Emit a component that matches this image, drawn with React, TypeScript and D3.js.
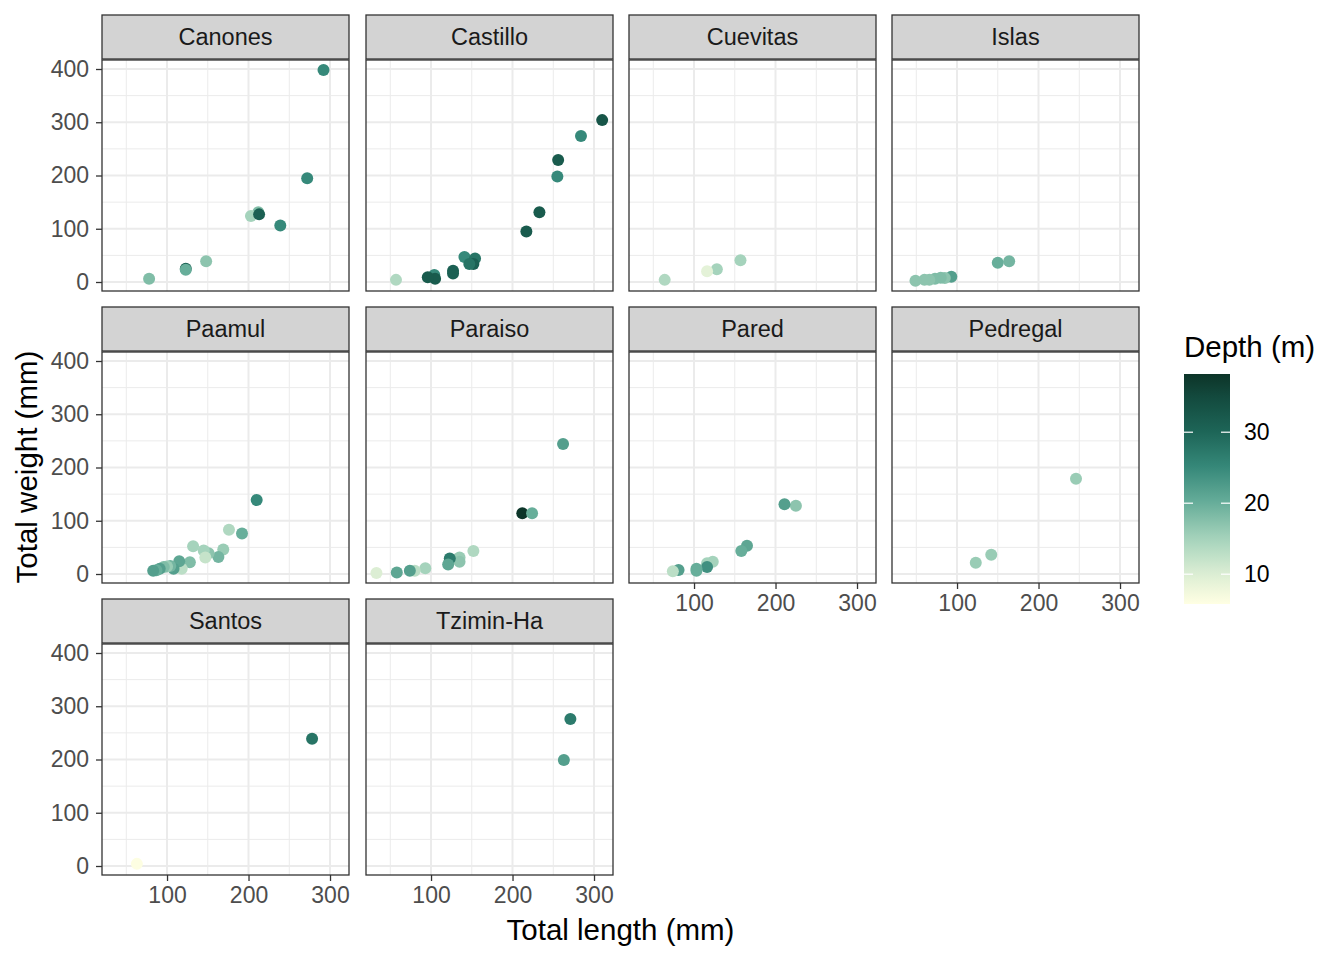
import React, { useRef, useEffect } from 'react';
import * as d3 from 'd3';

// [total length (mm), total weight, depth (m)]
type Fish = [number, number, number];

const SITES = ['Canones', 'Castillo', 'Cuevitas', 'Islas', 'Paamul', 'Paraiso', 'Pared', 'Pedregal', 'Santos', 'Tzimin-Ha'];

const canones: Fish[] = [
  [292, 398, 25], [272, 195, 25], [212, 131, 18], [203, 124, 15], [213, 127, 31],
  [239, 106, 25], [148, 39, 17], [123, 25, 31], [123, 23, 20], [78, 6, 18],
];
const castillo: Fish[] = [
  [310, 304, 33], [284, 274, 25], [256, 229, 32], [255, 198, 25], [233, 131, 32],
  [217, 95, 32], [141, 47, 25], [154, 44, 28], [152, 34, 31], [147, 34, 28],
  [127, 21, 31], [127, 16, 31], [104, 13, 25], [105, 6, 32], [96, 9, 32], [57, 4, 14],
];
const cuevitas: Fish[] = [[157, 41, 15], [128, 24, 15], [116, 20, 9], [64, 4, 14]];
const islas: Fish[] = [
  [164, 39, 19], [150, 36, 20], [93, 10, 22], [85, 7.5, 17], [80, 8, 18],
  [73, 6, 18], [66, 4, 17], [60, 4, 17], [49, 2.5, 17],
];
const paamul: Fish[] = [
  [210, 139, 25], [192, 76, 20], [176, 83, 14], [169, 46, 16], [163, 32, 19],
  [151, 39, 17], [145, 44, 15], [147, 31, 12], [132, 52, 15], [128, 22, 18],
  [118, 10, 13], [115, 24, 21], [108, 10, 22], [104, 15, 19], [100, 14, 16],
  [96, 13, 18], [91, 10, 22], [87, 7, 20], [83, 6, 22],
];
const paraiso: Fish[] = [
  [262, 244, 22], [212, 114, 38], [224, 114, 20], [152, 43, 14], [135, 31, 16],
  [135, 23, 17], [123, 29, 27], [121, 18, 21], [93, 11, 15], [80, 6, 13],
  [74, 6, 22], [58, 3, 21], [33, 2, 10],
];
const pared: Fish[] = [
  [225, 128, 17], [211, 131, 22], [165, 53, 21], [158, 43, 20], [123, 23, 15],
  [116, 20, 15], [116, 13, 24], [103, 10, 20], [103, 6, 20], [81, 7.5, 22], [74, 5, 13],
];
const pedregal: Fish[] = [[246, 179, 16], [142, 36, 16], [123, 21, 16]];
const santos: Fish[] = [[278, 239, 28], [63, 4, 6]];
const tziminHa: Fish[] = [[271, 276, 27], [263, 199, 22]];

const SITE_DATA: Fish[][] = [canones, castillo, cuevitas, islas, paamul, paraiso, pared, pedregal, santos, tziminHa];

const X_TICKS = [100, 200, 300];
const X_MINOR = [50, 150, 250];
const Y_TICKS = [0, 100, 200, 300, 400];
const Y_MINOR = [50, 150, 250, 350];
const DEPTH_TICKS = [10, 20, 30];

const DEPTH_STOPS = [5.8, 10, 15, 20, 25, 30, 35, 38.2];
const DEPTH_COLORS = ['#FFFFE3', '#DCEED4', '#A5D3BC', '#67AE9A', '#36897A', '#1D6658', '#134A3E', '#0C3428'];

const FONT = '"Liberation Sans", Arial, Helvetica, sans-serif';

export default function App() {
  const svgRef = useRef<SVGSVGElement>(null);

  useEffect(() => {
    if (!svgRef.current) return;
    const svg = d3.select(svgRef.current);
    svg.selectAll('*').remove();

    const colLeft = [102, 366, 629, 892];
    const rowTop = [15, 307, 599];
    const panelW = 247;
    const stripH = 44;
    const panelH = 231;

    const color = d3.scaleLinear<string>()
      .domain(DEPTH_STOPS)
      .range(DEPTH_COLORS)
      .interpolate(d3.interpolateLab)
      .clamp(true);

    SITES.forEach((site, i) => {
      const col = i % 4;
      const row = Math.floor(i / 4);
      const left = colLeft[col];
      const stripTop = rowTop[row];
      const top = stripTop + stripH + 1;

      const x = d3.scaleLinear().domain([20.2, 323.3]).range([left, left + panelW]);
      const y = d3.scaleLinear().domain([-16.9, 416.9]).range([top + panelH, top]);

      const g = svg.append('g');

      g.append('rect')
        .attr('x', left).attr('y', top)
        .attr('width', panelW).attr('height', panelH)
        .attr('fill', '#fff');

      // minor grid
      g.selectAll('.xminor').data(X_MINOR).join('line')
        .attr('x1', d => x(d)).attr('x2', d => x(d))
        .attr('y1', top).attr('y2', top + panelH)
        .attr('stroke', '#EBEBEB').attr('stroke-width', 1);
      g.selectAll('.yminor').data(Y_MINOR).join('line')
        .attr('x1', left).attr('x2', left + panelW)
        .attr('y1', d => y(d)).attr('y2', d => y(d))
        .attr('stroke', '#EBEBEB').attr('stroke-width', 1);
      // major grid
      g.selectAll('.xmajor').data(X_TICKS).join('line')
        .attr('x1', d => x(d)).attr('x2', d => x(d))
        .attr('y1', top).attr('y2', top + panelH)
        .attr('stroke', '#EBEBEB').attr('stroke-width', 2);
      g.selectAll('.ymajor').data(Y_TICKS).join('line')
        .attr('x1', left).attr('x2', left + panelW)
        .attr('y1', d => y(d)).attr('y2', d => y(d))
        .attr('stroke', '#EBEBEB').attr('stroke-width', 2);

      // points
      g.append('g')
        .selectAll('circle')
        .data(SITE_DATA[i])
        .join('circle')
        .attr('cx', d => x(d[0]))
        .attr('cy', d => y(d[1]))
        .attr('r', 6)
        .attr('fill', d => color(d[2]));

      // panel border
      g.append('rect')
        .attr('x', left).attr('y', top)
        .attr('width', panelW).attr('height', panelH)
        .attr('fill', 'none').attr('stroke', '#333333').attr('stroke-width', 1.3);

      // strip
      g.append('rect')
        .attr('x', left).attr('y', stripTop)
        .attr('width', panelW).attr('height', stripH)
        .attr('fill', '#D3D3D3').attr('stroke', '#333333').attr('stroke-width', 1.3);
      g.append('text')
        .attr('x', left + panelW / 2).attr('y', stripTop + stripH / 2)
        .attr('text-anchor', 'middle').attr('dominant-baseline', 'central')
        .attr('font-family', FONT).attr('font-size', 23.5).attr('fill', '#1A1A1A')
        .text(site);

      // left axis
      if (col === 0) {
        const ax = g.append('g')
          .attr('transform', `translate(${left},0)`)
          .call(d3.axisLeft(y).tickValues(Y_TICKS).tickSize(6).tickPadding(7).tickFormat(d3.format('d')));
        ax.select('.domain').remove();
        ax.selectAll('line').attr('stroke', '#333333').attr('stroke-width', 1.3);
        ax.selectAll('text').attr('font-family', FONT).attr('font-size', 23).attr('fill', '#4D4D4D');
      }
      // bottom axis
      if (i + 4 >= SITES.length) {
        const ax = g.append('g')
          .attr('transform', `translate(0,${top + panelH})`)
          .call(d3.axisBottom(x).tickValues(X_TICKS).tickSize(6).tickPadding(6).tickFormat(d3.format('d')));
        ax.select('.domain').remove();
        ax.selectAll('line').attr('stroke', '#333333').attr('stroke-width', 1.3);
        ax.selectAll('text').attr('font-family', FONT).attr('font-size', 23).attr('fill', '#4D4D4D');
      }
    });

    // axis titles
    svg.append('text')
      .attr('x', 620.5).attr('y', 940)
      .attr('text-anchor', 'middle')
      .attr('font-family', FONT).attr('font-size', 29.5).attr('fill', '#000')
      .text('Total length (mm)');
    svg.append('text')
      .attr('transform', `translate(37,467) rotate(-90)`)
      .attr('text-anchor', 'middle')
      .attr('font-family', FONT).attr('font-size', 29.5).attr('fill', '#000')
      .text('Total weight (mm)');

    // legend
    const barX = 1184, barW = 46, barTop = 374, barBottom = 604;
    const ly = d3.scaleLinear().domain([DEPTH_STOPS[0], DEPTH_STOPS[DEPTH_STOPS.length - 1]]).range([barBottom, barTop]);

    const defs = svg.append('defs');
    const grad = defs.append('linearGradient')
      .attr('id', 'depthGrad')
      .attr('x1', 0).attr('y1', 1).attr('x2', 0).attr('y2', 0);
    d3.range(0, 1.0001, 0.05).forEach(t => {
      const v = DEPTH_STOPS[0] + t * (DEPTH_STOPS[DEPTH_STOPS.length - 1] - DEPTH_STOPS[0]);
      grad.append('stop').attr('offset', t).attr('stop-color', color(v));
    });

    svg.append('text')
      .attr('x', barX).attr('y', 357)
      .attr('font-family', FONT).attr('font-size', 29.5).attr('fill', '#000')
      .text('Depth (m)');
    svg.append('rect')
      .attr('x', barX).attr('y', barTop)
      .attr('width', barW).attr('height', barBottom - barTop)
      .attr('fill', 'url(#depthGrad)');
    const lg = svg.append('g');
    DEPTH_TICKS.forEach(t => {
      lg.append('line')
        .attr('x1', barX).attr('x2', barX + 9)
        .attr('y1', ly(t)).attr('y2', ly(t))
        .attr('stroke', '#fff').attr('stroke-width', 1.2);
      lg.append('line')
        .attr('x1', barX + barW - 9).attr('x2', barX + barW)
        .attr('y1', ly(t)).attr('y2', ly(t))
        .attr('stroke', '#fff').attr('stroke-width', 1.2);
      lg.append('text')
        .attr('x', 1244).attr('y', ly(t))
        .attr('dominant-baseline', 'central')
        .attr('font-family', FONT).attr('font-size', 23).attr('fill', '#000')
        .text(t);
    });
  }, []);

  return (
    <>
      <style>{'body{margin:0}'}</style>
      <svg ref={svgRef} width={1344} height={960} style={{ display: 'block', background: '#fff' }} />
    </>
  );
}
